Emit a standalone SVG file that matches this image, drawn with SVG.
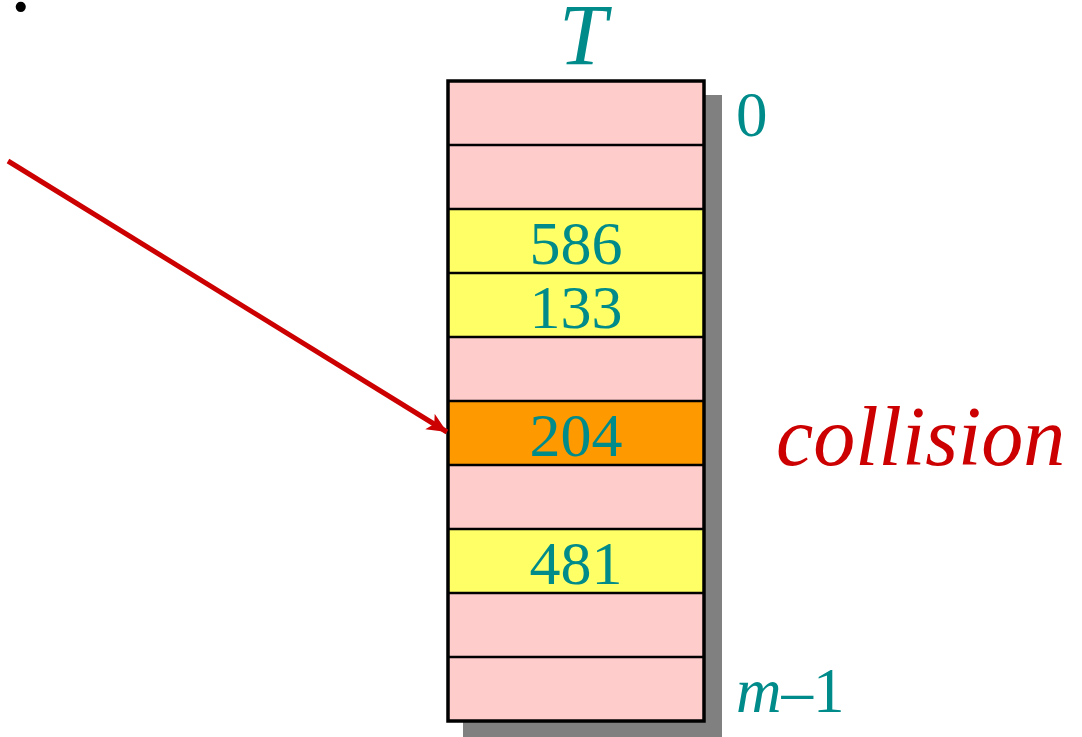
<svg xmlns="http://www.w3.org/2000/svg" width="1082" height="737" viewBox="0 0 1082 737">
<style>
.pink{fill:#FFCCCC}
.yellow{fill:#FFFF66}
.orange{fill:#FF9900}
.sep{stroke:#000;stroke-width:2.5}
.serif{font-family:"Times New Roman","Liberation Serif",Times,serif}
.num{font-size:62px;fill:#008B8B;text-anchor:middle}
.lbl{fill:#008B8B}
</style>
<defs>
<marker id="ah" markerUnits="userSpaceOnUse" markerWidth="24" markerHeight="20" refX="20" refY="9" orient="auto">
<path d="M0,0 L20,9 L0,18 L5,9 Z" fill="#CC0000"/>
</marker>
</defs>
<rect width="1082" height="737" fill="#fff"/>
<text class="serif" x="10" y="11" font-size="86" fill="#000">.</text>
<g id="table">
<rect x="463" y="95" width="259" height="642" fill="#808080"/>
<rect class="pink" x="448" y="81" width="256" height="640"/>
<rect class="yellow" x="448" y="209" width="256" height="128"/>
<rect class="orange" x="448" y="401" width="256" height="64"/>
<rect class="yellow" x="448" y="529" width="256" height="64"/>
<g class="sep">
<line x1="448" y1="145" x2="704" y2="145"/>
<line x1="448" y1="209" x2="704" y2="209"/>
<line x1="448" y1="273" x2="704" y2="273"/>
<line x1="448" y1="337" x2="704" y2="337"/>
<line x1="448" y1="401" x2="704" y2="401"/>
<line x1="448" y1="465" x2="704" y2="465"/>
<line x1="448" y1="529" x2="704" y2="529"/>
<line x1="448" y1="593" x2="704" y2="593"/>
<line x1="448" y1="657" x2="704" y2="657"/>
</g>
<rect x="448" y="81" width="256" height="640" fill="none" stroke="#000" stroke-width="3.5"/>
</g>
<g id="cells">
<text class="serif num" x="576" y="264">586</text>
<text class="serif num" x="576" y="328">133</text>
<text class="serif num" x="576" y="456">204</text>
<text class="serif num" x="576" y="584">481</text>
</g>
<g id="labels">
<text class="serif lbl" x="583" y="64" font-size="86" font-style="italic" text-anchor="middle">T</text>
<text class="serif lbl" x="736" y="136" font-size="63">0</text>
<text class="serif lbl" x="736" y="712" font-size="63"><tspan font-style="italic">m</tspan>–1</text>
<text class="serif" x="776" y="465" font-size="84" font-style="italic" fill="#CC0000">collision</text>
</g>
<g id="connectors">
<line x1="8" y1="161" x2="447" y2="432" stroke="#CC0000" stroke-width="5" marker-end="url(#ah)"/>
</g>
</svg>
